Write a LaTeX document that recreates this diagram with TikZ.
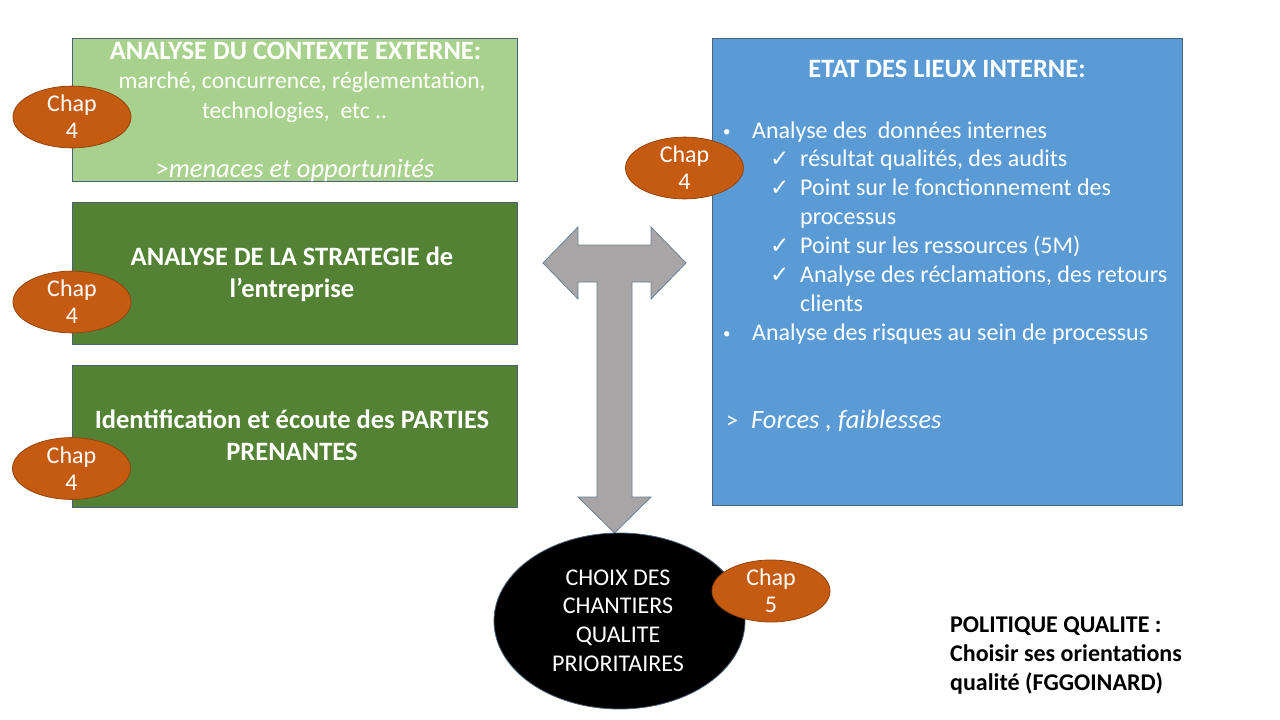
\documentclass[tikz,border=0pt]{standalone}
\usepackage{fontspec}
\setmainfont{Carlito}
\newfontfamily\dejavu{DejaVu Sans}
\usetikzlibrary{shapes.geometric}
\definecolor{lgreen}{HTML}{A9D18E}
\definecolor{dgreen}{HTML}{548235}
\definecolor{blu}{HTML}{5B9BD5}
\definecolor{orng}{HTML}{C55A11}
\definecolor{edgec}{HTML}{4A6276}
\definecolor{agray}{HTML}{A8A5A6}
\tikzset{
  boxfill/.style={draw=edgec, line width=0.8pt},
  chap/.style={ellipse, fill=orng, draw=orng!75!black, line width=0.8pt,
    minimum width=118, minimum height=60, inner sep=0pt, text=white,
    align=center, font=\fontsize{24}{27}\selectfont},
  wt/.style={inner sep=0pt, text=white, font=\fontsize{24}{29}\selectfont},
  wtm/.style={inner sep=0pt, text=white, font=\fontsize{23.6}{29}\selectfont},
  wtb/.style={inner sep=0pt, text=white, font=\fontsize{26.5}{32}\selectfont\bfseries},
  bk/.style={inner sep=0pt, text=black, font=\fontsize{24}{29}\selectfont\bfseries},
  bul/.style={inner sep=0pt, text=white, font=\fontsize{15}{18}\selectfont},
  chk/.style={inner sep=0pt, text=white, font=\dejavu\fontsize{23}{26}\selectfont},
}
\begin{document}
\begin{tikzpicture}[x=1pt,y=-1pt]
\useasboundingbox (0,0) rectangle (1280,720);
\fill[white] (0,0) rectangle (1280,720);
% boxes
\draw[boxfill, fill=lgreen] (72,38) rectangle (517,181);
\draw[boxfill, fill=dgreen] (72,202) rectangle (517,344);
\draw[boxfill, fill=dgreen] (72,365) rectangle (517,507);
\draw[boxfill, fill=blu] (712,38) rectangle (1182,505);
% box 1 text
\node[wtb, anchor=base] (b1a) at (295.5,59) {ANALYSE DU CONTEXTE EXTERNE:};
\node[wtm, anchor=base] (b1b) at (302,88.5) {marché, concurrence, réglementation,};
\node[wtm, anchor=base] (b1c) at (294.5,118) {technologies,~ etc ..};
\node[inner sep=0pt, text=white, font=\fontsize{26.5}{32}\selectfont, anchor=base] (b1d) at (295,177) {>\textit{menaces et opportunités}};
% box 2 text
\node[wtb, anchor=base] (b2a) at (292,265) {ANALYSE DE LA STRATEGIE de};
\node[wtb, anchor=base] (b2b) at (292,297) {l’entreprise};
% box 3 text
\node[wtb, anchor=base] (b3a) at (292,428) {Identification et écoute des PARTIES};
\node[wtb, anchor=base] (b3b) at (292,460) {PRENANTES};
% right box text
\node[wtb, anchor=base] (r0) at (947,77) {ETAT DES LIEUX INTERNE:};
\node[wt, anchor=base west] (r1) at (752,138) {Analyse des~ données internes};
\node[wt, anchor=base west] (r2) at (800,166.9) {résultat qualités, des audits};
\node[wt, anchor=base west] (r3) at (800,195.7) {Point sur le fonctionnement des};
\node[wt, anchor=base west] (r4) at (800,224.6) {processus};
\node[wt, anchor=base west] (r5) at (800,253.4) {Point sur les ressources (5M)};
\node[wt, anchor=base west] (r6) at (800,282.3) {Analyse des réclamations, des retours};
\node[wt, anchor=base west] (r7) at (800,311.2) {clients};
\node[wt, anchor=base west] (r8) at (752,340) {Analyse des risques au sein de processus};
\foreach \yy/\nm in {136/p1,338/p2}{
  \node[bul, anchor=base west] (\nm) at (723,\yy) {•};
}
\foreach \yy/\nm in {166.9/k1,195.7/k2,253.4/k3,282.3/k4}{
  \node[chk, anchor=base west] (\nm) at (770,\yy) {✓};
}
\node[wt, anchor=base west] (fg) at (726,428) {>};
\node[inner sep=0pt, text=white, font=\fontsize{26.5}{32}\selectfont\itshape, anchor=base west] (fo) at (751,428) {Forces , faiblesses};
% T arrow
\draw[fill=agray, draw=edgec!80, line width=0.8pt]
  (543,263) -- (578,227) -- (578,245) -- (651,245) -- (651,227) -- (686,263)
  -- (651,299) -- (651,282) -- (632,282) -- (632,497) -- (651,497)
  -- (614.5,533) -- (578,497) -- (597,497) -- (597,282) -- (578,282)
  -- (578,299) -- cycle;
% black ellipse
\node[ellipse, fill=black, draw=edgec, line width=0.8pt, minimum width=251,
  minimum height=176, inner sep=0pt] (choix) at (619.5,621) {};
\node[wt, anchor=base] (e1) at (618,585) {CHOIX DES};
\node[wt, anchor=base] (e2) at (618,613.5) {CHANTIERS};
\node[wt, anchor=base] (e3) at (618,642) {QUALITE};
\node[wt, anchor=base] (e4) at (618,671) {PRIORITAIRES};
% chap ellipses
\node[chap] (c1) at (72,117) {Chap\\4};
\node[chap] (c2) at (72,302) {Chap\\4};
\node[chap] (c3) at (71.5,468.5) {Chap\\4};
\node[chap] (c4) at (684.5,168) {Chap\\4};
\node[chap] (c5) at (771,591) {Chap\\5};
% bottom right text
\node[bk, anchor=base west] (t1) at (950,632) {POLITIQUE QUALITE :};
\node[bk, anchor=base west] (t2) at (950,661) {Choisir ses orientations};
\node[bk, anchor=base west] (t3) at (950,690) {qualité (FGGOINARD)};
\end{tikzpicture}
\end{document}
